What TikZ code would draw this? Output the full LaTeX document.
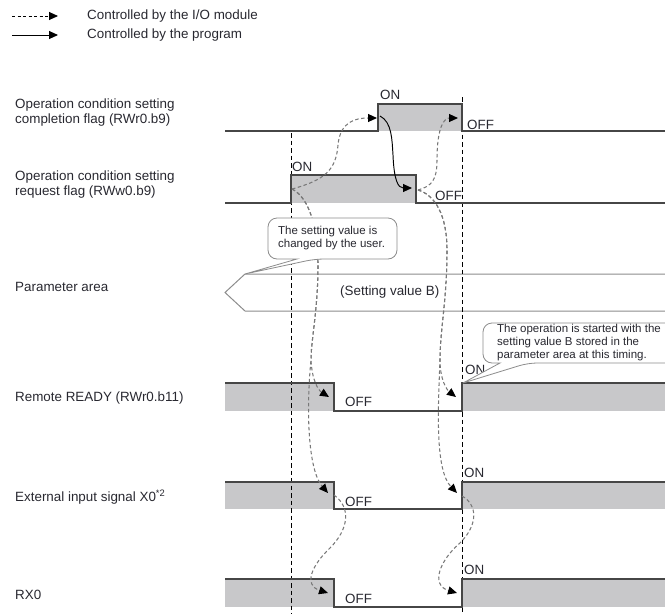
\documentclass[tikz,border=0pt]{standalone}
\usepackage{fontspec}
\setmainfont{Liberation Sans}
\usetikzlibrary{arrows.meta}
\definecolor{txt}{RGB}{40,40,48}
\definecolor{sigc}{RGB}{70,70,70}
\definecolor{fillc}{RGB}{200,200,202}
\definecolor{dashc}{RGB}{120,120,120}
\definecolor{paramc}{RGB}{140,140,140}
\begin{document}
\begin{tikzpicture}[x=1pt,y=-1pt,
  lbl/.style={anchor=west,inner sep=0pt,font=\fontsize{13.4}{15.2}\selectfont,text=txt,align=left},
  st/.style={anchor=west,inner sep=0pt,font=\fontsize{13.4}{15}\selectfont,text=txt},
  note/.style={anchor=west,inner sep=0pt,font=\fontsize{11.5}{13}\selectfont,align=left,text=txt},
  sig/.style={draw=sigc,line width=1.1pt},
  hifill/.style={fill=fillc},
  tip/.style={-{Triangle[length=9pt,width=8pt,color=black,fill=black]}},
  io/.style={draw=dashc,dash pattern=on 3.5pt off 2.5pt,line width=1.05pt,tip},
  prog/.style={draw=black,line width=0.95pt,tip},
  guide/.style={draw=black,dash pattern=on 4.5pt off 3pt,line width=0.8pt},
  callout/.style={draw=paramc,fill=white,line width=0.8pt},
  param/.style={draw=paramc,line width=1pt}
]
\useasboundingbox (0,0) rectangle (665,614);

% legend
\coordinate (l1a) at (12,16); \coordinate (l1b) at (58,16);
\coordinate (l2a) at (12,35); \coordinate (l2b) at (58,35);
\draw[black,dash pattern=on 3pt off 2.5pt,line width=0.9pt,tip] (l1a) -- (l1b);
\draw[prog] (l2a) -- (l2b);
\node[st] (leg1) at (87,16) {Controlled by the I/O module};
\node[st] (leg2) at (87,35) {Controlled by the program};

% labels
\node[lbl] (lab1) at (15,112.5) {Operation condition setting\\completion flag (RWr0.b9)};
\node[lbl] (lab2) at (15,184.5) {Operation condition setting\\request flag (RWw0.b9)};
\node[lbl] (lab3) at (15,287) {Parameter area};
\node[lbl] (lab4) at (15,398) {Remote READY (RWr0.b11)};
\node[lbl] (lab5) at (15,497) {External input signal X0\textsuperscript{*2}};
\node[lbl] (lab6) at (15,595) {RX0};

% fills
\fill[hifill] (378,104) rectangle (462,131);
\fill[hifill] (291,175) rectangle (416,203);
\fill[hifill] (225,383) rectangle (334,411);
\fill[hifill] (462,383) rectangle (665,411);
\fill[hifill] (225,482) rectangle (334,509);
\fill[hifill] (462,482) rectangle (665,509);
\fill[hifill] (225,579) rectangle (334,607);
\fill[hifill] (462,579) rectangle (665,607);

% parameter area
\draw[param] (665,274) -- (245,274) -- (225,292.5) -- (245,311) -- (665,311);
\node[st] (pval) at (340,292) {(Setting value B)};

% guides
\draw[guide] (291,133) -- (291,614);
\draw[guide] (462,97) -- (462,614);

% signals
\draw[sig] (225,131) -- (378,131) -- (378,104) -- (462,104) -- (462,131) -- (665,131);
\draw[sig] (225,203) -- (291,203) -- (291,175) -- (416,175) -- (416,203) -- (665,203);
\draw[sig] (225,383) -- (334,383) -- (334,411) -- (462,411) -- (462,383) -- (665,383);
\draw[sig] (225,482) -- (334,482) -- (334,509) -- (462,509) -- (462,482) -- (665,482);
\draw[sig] (225,579) -- (334,579) -- (334,607) -- (462,607) -- (462,579) -- (665,579);

% ON / OFF
\node[st] (on1) at (380,95) {ON};
\node[st] (off1) at (467,125) {OFF};
\node[st] (on2) at (292,167) {ON};
\node[st] (off2) at (435,196) {OFF};
\node[st] (off4) at (345,402) {OFF};
\node[st] (on4) at (465,370) {ON};
\node[st] (off5) at (345,502) {OFF};
\node[st] (on5) at (464,473) {ON};
\node[st] (off6) at (345,599) {OFF};
\node[st] (on6) at (464,570) {ON};

% edge coordinates
\coordinate (reqOn) at (292,189);
\coordinate (reqOff) at (418,190);
\coordinate (cmpOn) at (377,118);
\coordinate (cmpOnS) at (380,116);
\coordinate (cmpOff) at (458,118);
\coordinate (reqOffT) at (412,188);
\coordinate (rdyOff) at (329,397);
\coordinate (rdyOn) at (456,397);
\coordinate (extOff) at (328,493);
\coordinate (extOn) at (457,493);
\coordinate (extOffS) at (334,495);
\coordinate (extOnS) at (462,496);
\coordinate (rxOff) at (328,593);
\coordinate (rxOn) at (457,593);

% dashed (I/O module) arrows
\draw[io] (reqOn) .. controls (325,180) and (336,170) .. (338,145) .. controls (340,122) and (355,118) .. (cmpOn);
\draw[io] (reqOff) .. controls (432,186) and (437,180) .. (437,160) .. controls (437,125) and (445,118) .. (cmpOff);
\draw[io] (reqOn) .. controls (310,198) and (318,230) .. (318,265) .. controls (318,310) and (311,340) .. (311,360) .. controls (312,380) and (318,390) .. (rdyOff);
\draw[io] (reqOn) .. controls (310,198) and (318,230) .. (318,265) .. controls (318,310) and (311,340) .. (311,360) .. controls (306,410) and (308,470) .. (extOff);
\draw[io] (reqOff) .. controls (435,195) and (447,215) .. (447,250) .. controls (447,300) and (440,330) .. (440,360) .. controls (440,380) and (447,390) .. (rdyOn);
\draw[io] (reqOff) .. controls (435,195) and (447,215) .. (447,250) .. controls (447,300) and (440,330) .. (440,360) .. controls (438,410) and (435,470) .. (extOn);
\draw[io] (extOffS) .. controls (352,508) and (348,530) .. (330,548) .. controls (312,565) and (303,585) .. (rxOff);
\draw[io] (extOnS) .. controls (478,505) and (478,525) .. (460,543) .. controls (440,560) and (430,585) .. (rxOn);

% program arrow
\draw[prog] (cmpOnS) .. controls (392,122) and (392,140) .. (393,155) .. controls (394,180) and (398,188) .. (reqOffT);

% callouts
\draw[callout] (297,259) [rounded corners=9] -- (268,259) -- (268,218) -- (397,218) -- (397,259) -- (315,259) [sharp corners] -- (245,274) -- cycle;
\node[note] (n1) at (278,238.5) {The setting value is\\changed by the user.};
\draw[callout] (500,363) [rounded corners=9] -- (483,363) -- (483,323) -- (690,323) -- (690,363) -- (528,363) [sharp corners] -- (463,383) -- cycle;
\node[note] (n2) at (497,343) {The operation is started with the\\setting value B stored in the\\parameter area at this timing.};
\end{tikzpicture}
\end{document}
